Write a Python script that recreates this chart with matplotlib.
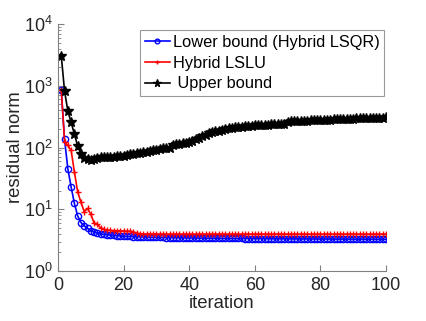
import numpy as np
import matplotlib
matplotlib.use("Agg")
import matplotlib.pyplot as plt
from matplotlib.ticker import LogLocator, FixedLocator, NullFormatter

iterations = list(range(1, 101))

upper_bound = [3050, 820, 390, 255, 165, 105, 78, 68, 64, 62,
               66, 68, 69, 69, 70, 70, 71, 72, 72, 74,
               76, 78, 79, 80, 82, 84, 85, 87, 90, 92,
               95, 97, 98, 100, 110, 112, 115, 117, 120, 123,
               126, 135, 145, 155, 162, 170, 176, 182, 188, 195,
               200, 205, 208, 212, 215, 218, 220, 222, 225, 228,
               230, 232, 234, 235, 236, 237, 238, 239, 240, 262,
               264, 265, 267, 268, 270, 272, 274, 275, 277, 279,
               280, 282, 284, 285, 287, 288, 290, 291, 292, 294,
               295, 296, 298, 299, 300, 302, 303, 305, 306, 308]

lower_bound = [850, 135, 45, 23, 12.4, 7.8, 6.1, 5.4, 4.9, 4.5,
               4.25, 4.1, 4.0, 3.92, 3.86, 3.80, 3.76, 3.72, 3.69, 3.66,
               3.64, 3.62, 3.60, 3.58, 3.57, 3.55, 3.54, 3.53, 3.52, 3.51,
               3.50, 3.49, 3.48, 3.47, 3.46, 3.46, 3.45, 3.44, 3.44, 3.43,
               3.42, 3.42, 3.41, 3.41, 3.40, 3.40, 3.39, 3.39, 3.38, 3.38,
               3.37, 3.37, 3.37, 3.36, 3.36, 3.36, 3.35, 3.35, 3.35, 3.34,
               3.34, 3.34, 3.33, 3.33, 3.33, 3.32, 3.32, 3.32, 3.32, 3.31,
               3.31, 3.31, 3.31, 3.30, 3.30, 3.30, 3.30, 3.30, 3.29, 3.29,
               3.29, 3.29, 3.29, 3.28, 3.28, 3.28, 3.28, 3.28, 3.28, 3.27,
               3.27, 3.27, 3.27, 3.27, 3.27, 3.27, 3.26, 3.26, 3.26, 3.26]

hybrid_lslu = [850, 125, 108, 90, 40, 19, 13, 9.1, 10.3, 8.3,
               6.0, 5.7, 5.0, 4.7, 4.6, 4.55, 4.5, 4.5, 4.45, 4.45,
               4.4, 4.4, 4.3, 4.1, 4.0, 3.98, 3.97, 3.97, 3.96, 3.96,
               3.96, 3.95, 3.95, 3.95, 3.95, 3.95, 3.95, 3.95, 3.95, 3.95,
               3.95, 3.95, 3.95, 3.95, 3.95, 3.95, 3.95, 3.95, 3.95, 3.95,
               3.95, 3.95, 3.95, 3.95, 3.95, 3.95, 3.95, 3.95, 3.95, 3.95,
               3.95, 3.95, 3.95, 3.95, 3.95, 3.95, 3.95, 3.95, 3.95, 3.95,
               3.95, 3.95, 3.95, 3.95, 3.95, 3.95, 3.95, 3.95, 3.95, 3.95,
               3.95, 3.95, 3.95, 3.95, 3.95, 3.95, 3.95, 3.95, 3.95, 3.95,
               3.95, 3.95, 3.95, 3.95, 3.95, 3.95, 3.95, 3.95, 3.95, 3.95]

labels = ["Lower bound (Hybrid LSQR)", "Hybrid LSLU", " Upper bound"]
xticks = [0, 20, 40, 60, 80, 100]
yticks = [1, 10, 100, 1000, 10000]
ytick_labels = ["$10^{0}$", "$10^{1}$", "$10^{2}$", "$10^{3}$", "$10^{4}$"]

plt.rcParams['font.family'] = ['Liberation Sans', 'DejaVu Sans']
plt.rcParams['mathtext.fontset'] = 'custom'
plt.rcParams['mathtext.rm'] = 'Liberation Sans'
plt.rcParams['mathtext.it'] = 'Liberation Sans'

txt = '#262626'
axc = '#808080'

fig = plt.figure(figsize=(4.27, 3.21), dpi=100)
ax = fig.add_axes([58/427, 1-271/321, (386-58)/427, (271-24)/321])

ax.plot(iterations, lower_bound, color='#0000ff', lw=1.2, marker='o',
        ms=4.5, mfc='none', mec='#0000ff', mew=1.0, label=labels[0])
ax.plot(iterations, hybrid_lslu, color='#ff0000', lw=1.2, marker='+',
        ms=4.5, mew=1.0, label=labels[1])
ax.plot(iterations, upper_bound, color='black', lw=1.2, marker='*',
        ms=7.5, mfc='black', mec='black', label=labels[2])

ax.set_yscale('log')
ax.set_xlim(0, 100)
ax.set_ylim(1, 10000)
ax.set_xticks(xticks)
ax.set_xticklabels([str(v) for v in xticks])
ax.yaxis.set_major_locator(FixedLocator(yticks))
ax.set_yticklabels(ytick_labels)
ax.yaxis.set_minor_locator(LogLocator(base=10, subs=np.arange(2, 10)))
ax.yaxis.set_minor_formatter(NullFormatter())

for s in ['top', 'right']:
    ax.spines[s].set_visible(False)
for s in ['left', 'bottom']:
    ax.spines[s].set_color(axc)
    ax.spines[s].set_linewidth(0.8)

ax.tick_params(axis='both', which='major', direction='in', length=4,
               color=axc, labelcolor=txt, labelsize=13, width=0.8, pad=4)
ax.tick_params(axis='y', which='minor', direction='in', length=2,
               color=axc, width=0.6)

ax.set_xlabel('iteration', fontsize=13.3, color=txt, labelpad=1)
ax.set_ylabel('residual norm', fontsize=13.3, color=txt, labelpad=0)

leg = ax.legend(loc='upper left', bbox_to_anchor=((140-58)/328, (271-30)/247),
                fontsize=11.8, frameon=True, fancybox=False, borderpad=0.3,
                handlelength=1.5, handletextpad=0.2, labelspacing=0.35,
                borderaxespad=0, markerscale=0.75)
leg.get_frame().set_edgecolor(axc)
leg.get_frame().set_linewidth(0.8)
for t in leg.get_texts():
    t.set_color('black')

fig.savefig('out.png', dpi=100)
